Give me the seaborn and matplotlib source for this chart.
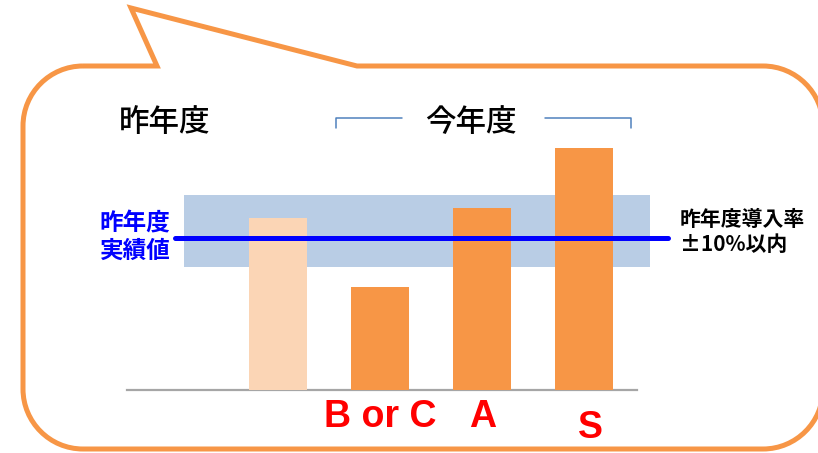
import numpy as np
import pandas as pd
import seaborn as sns
import matplotlib
matplotlib.use("Agg")
import matplotlib.pyplot as plt
from matplotlib.path import Path
from matplotlib.patches import PathPatch, Rectangle

# --- data -------------------------------------------------------------
categories = ["昨年度", "B or C", "A", "S"]
values = [113, 68, 120, 159]
tick_labels = ["", "B or C", "A", "S"]
bar_colors = ["#FBD5B5", "#F79646", "#F79646", "#F79646"]
reference_value = 100          # last year's actual rate
band_low, band_high = 81, 128  # ±10% range around last year's rate

sns.set_theme(style="white")
plt.rcParams["font.family"] = ["Noto Sans CJK JP", "DejaVu Sans"]

W, H = 818, 453
fig = plt.figure(figsize=(W / 100, H / 100), dpi=100)

# background layer in pixel coordinates for the speech bubble and captions
bg = fig.add_axes([0, 0, 1, 1])
bg.set_xlim(0, W)
bg.set_ylim(H, 0)
bg.axis("off")

left, right, top, bottom, r = 23, 823, 66, 449, 60
k = 0.5523 * r
verts = [
    (left + r, top),
    (157, top), (131, 8), (357, top),
    (right - r, top),
    (right - r + k, top), (right, top + r - k), (right, top + r),
    (right, bottom - r),
    (right, bottom - r + k), (right - r + k, bottom), (right - r, bottom),
    (left + r, bottom),
    (left + r - k, bottom), (left, bottom - r + k), (left, bottom - r),
    (left, top + r),
    (left, top + r - k), (left + r - k, top), (left + r, top),
]
codes = [Path.MOVETO, Path.LINETO, Path.LINETO, Path.LINETO, Path.LINETO,
         Path.CURVE4, Path.CURVE4, Path.CURVE4, Path.LINETO,
         Path.CURVE4, Path.CURVE4, Path.CURVE4, Path.LINETO,
         Path.CURVE4, Path.CURVE4, Path.CURVE4, Path.LINETO,
         Path.CURVE4, Path.CURVE4, Path.CURVE4]
bg.add_patch(PathPatch(Path(verts, codes), facecolor="white",
                       edgecolor="#F79646", lw=3.6, joinstyle="miter"))

# period headers with the bracket over this year's bars
bg.text(165, 122, "昨年度", fontsize=22, fontweight="medium", ha="center",
        va="center", color="black")
bg.text(471, 122, "今年度", fontsize=22, fontweight="medium", ha="center",
        va="center", color="black")
bg.plot([336, 336, 402], [128, 118, 118], color="#4F81BD", lw=1.1)
bg.plot([545, 631, 631], [118, 118, 128], color="#4F81BD", lw=1.1)

bg.text(135, 237, "昨年度\n実績値", fontsize=17, fontweight="bold", ha="center",
        va="center", color="#0000FF", linespacing=1.15)
bg.text(680, 232, "昨年度導入率\n±10%以内", fontsize=15, fontweight="bold",
        ha="left", va="center", color="black", linespacing=1.2)

# --- bar chart --------------------------------------------------------
ax = fig.add_axes([127 / W, (H - 390) / H, 510 / W, 290 / H])
ax.patch.set_alpha(0)
df = pd.DataFrame({"cat": categories, "val": values})
sns.barplot(data=df, x="cat", y="val", hue="cat", palette=bar_colors,
            width=0.57, saturation=1, legend=False, ax=ax, zorder=3,
            linewidth=0, edgecolor="none")
ax.set_xlim(-1.48, 3.52)
ax.set_ylim(0, 190.8)

ax.add_patch(Rectangle((-0.92, band_low), 4.57, band_high - band_low,
                       facecolor="#B9CDE5", edgecolor="none", zorder=1,
                       clip_on=False))
ax.plot([-1.01, 3.82], [reference_value, reference_value], color="#0000FF",
        lw=3.6, zorder=4, clip_on=False)

for s in ("top", "right", "left"):
    ax.spines[s].set_visible(False)
ax.spines["bottom"].set_color("#A6A6A6")
ax.spines["bottom"].set_linewidth(1.6)
ax.spines["bottom"].set_zorder(2)
ax.set_xticks([])
ax.set_yticks([])
ax.set_xlabel("")
ax.set_ylabel("")

label_drop = [0, 27, 27, 38]
label_shift = [0, 0, 1, 6]
for i, lab in enumerate(tick_labels):
    if lab:
        ax.annotate(lab, xy=(i, 0), xycoords=("data", "axes fraction"),
                    xytext=(label_shift[i], -label_drop[i]),
                    textcoords="offset pixels", ha="center", va="center",
                    fontsize=27, fontweight="bold", color="#FF0000",
                    family=["Liberation Sans", "DejaVu Sans"])

fig.savefig("out.png", dpi=100)
